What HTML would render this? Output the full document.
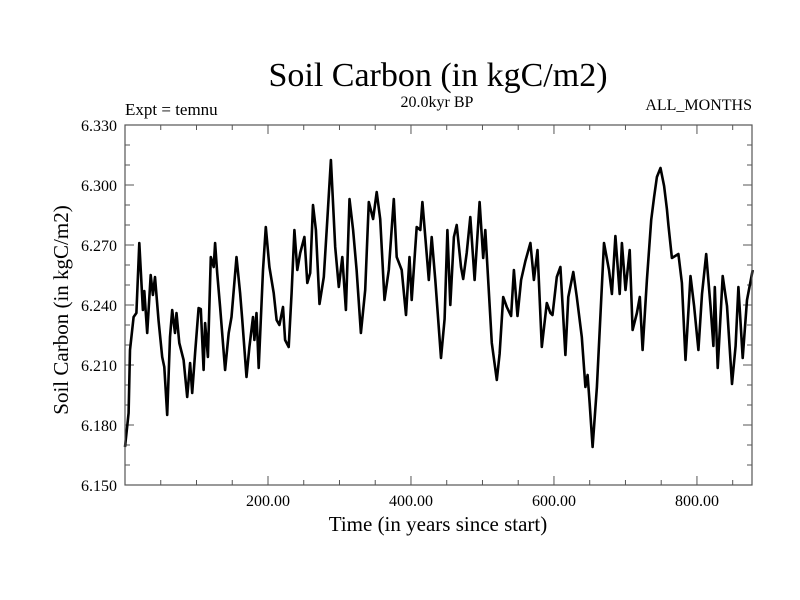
<!DOCTYPE html>
<html><head><meta charset="utf-8"><style>
body{margin:0;background:#fff;}
svg{display:block;font-family:"Liberation Serif",serif;}
</style></head><body>
<svg id="chart" width="800" height="600" viewBox="0 0 800 600" xmlns="http://www.w3.org/2000/svg">
<rect width="800" height="600" fill="#fff"/>
<text x="438" y="86" font-size="34" text-anchor="middle">Soil Carbon (in kgC/m2)</text>
<text x="437" y="107" font-size="16" text-anchor="middle">20.0kyr BP</text>
<text x="125" y="115" font-size="17">Expt = temnu</text>
<text x="752" y="110" font-size="16" text-anchor="end">ALL_MONTHS</text>
<text x="438" y="531" font-size="21" text-anchor="middle">Time (in years since start)</text>
<text transform="translate(68,310) rotate(-90)" font-size="21" text-anchor="middle">Soil Carbon (in kgC/m2)</text>
<g id="ticks"></g>
<g id="labels" font-size="16"></g>
<path id="series" fill="none" stroke="#000" stroke-width="2.6" stroke-linejoin="round"/>
<rect x="125" y="125" width="627" height="360" fill="none" stroke="#555" stroke-width="1.2"/>
</svg>
<script>
const years=[0,5,7,12,16,20,25,27,31,36,39,42,47,52,55,59,63,66,70,72,76,82,87,91,94,98,103,106,110,112,116,120,124,126,129,133,140,145,149,156,161,164,170,174,179,181,184,187,193,197,202,208,212,216,221,224,229,233,237,241,245,251,255,259,263,267,272,278,283,288,294,299,304,309,314,319,324,330,336,341,347,352,357,363,369,376,380,387,393,398,401,408,413,416,420,425,429,434,442,447,451,455,460,464,470,473,478,483,489,496,501,504,513,520,524,529,534,540,544,549,554,560,567,572,577,583,590,595,598,604,609,616,620,627,632,639,644,647,650,654,660,670,677,681,686,692,695,700,706,710,716,720,724,730,736,740,744,749,754,758,760,765,774,779,784,791,796,802,807,813,819,823,825,829,836,842,849,854,858,864,870,878];
const carbon=[6.169,6.186,6.2175,6.234,6.236,6.271,6.2375,6.247,6.226,6.255,6.245,6.254,6.232,6.214,6.209,6.185,6.224,6.2375,6.226,6.236,6.221,6.2125,6.194,6.211,6.196,6.216,6.2385,6.238,6.2075,6.231,6.214,6.264,6.259,6.271,6.256,6.239,6.2075,6.226,6.234,6.264,6.246,6.233,6.204,6.219,6.234,6.2225,6.236,6.2085,6.2575,6.279,6.259,6.246,6.2325,6.23,6.239,6.2225,6.219,6.246,6.2775,6.2575,6.266,6.274,6.251,6.256,6.29,6.2775,6.2405,6.254,6.2825,6.3125,6.269,6.249,6.264,6.2375,6.293,6.2775,6.2575,6.226,6.2475,6.2915,6.283,6.2965,6.283,6.2425,6.2575,6.293,6.264,6.2575,6.235,6.264,6.2425,6.279,6.2775,6.2915,6.274,6.2525,6.274,6.2525,6.2135,6.233,6.2775,6.24,6.274,6.28,6.259,6.253,6.266,6.284,6.2525,6.2915,6.2635,6.2775,6.221,6.2025,6.2155,6.244,6.239,6.2345,6.2575,6.2345,6.2525,6.262,6.271,6.2525,6.2675,6.219,6.241,6.236,6.235,6.254,6.259,6.215,6.244,6.2565,6.244,6.224,6.199,6.205,6.1905,6.169,6.199,6.271,6.2575,6.2455,6.2745,6.2455,6.271,6.2475,6.2675,6.2275,6.236,6.244,6.2175,6.2525,6.2825,6.294,6.304,6.3085,6.2995,6.288,6.28,6.2635,6.2655,6.251,6.2125,6.2545,6.2395,6.2175,6.2455,6.2655,6.2395,6.2195,6.249,6.2085,6.2545,6.2395,6.2005,6.2195,6.249,6.2135,6.2425,6.2575];
const xTickValues=[200,400,600,800];
const xTickLabels=["200.00","400.00","600.00","800.00"];
const yTickValues=[6.15,6.18,6.21,6.24,6.27,6.30,6.33];
const yTickLabels=["6.150","6.180","6.210","6.240","6.270","6.300","6.330"];
const X0=125,X1=752,Y0=485,Y1=125,XMIN=0,XMAX=877,YMIN=6.15,YMAX=6.33;
function xs(t){return X0+(t-XMIN)/(XMAX-XMIN)*(X1-X0);}
function ys(v){return Y0-(v-YMIN)/(YMAX-YMIN)*(Y0-Y1);}
const NS="http://www.w3.org/2000/svg";
const tg=document.getElementById('ticks'), lg=document.getElementById('labels');
function line(x1,y1,x2,y2){const l=document.createElementNS(NS,'line');l.setAttribute('x1',x1);l.setAttribute('y1',y1);l.setAttribute('x2',x2);l.setAttribute('y2',y2);l.setAttribute('stroke','#555');l.setAttribute('stroke-width','1');


tg.appendChild(l);}
for(let t=50;t<XMAX;t+=50){const x=xs(t);const len=(t%200===0)?9:5;line(x,Y0,x,Y0-len);line(x,Y1,x,Y1+len);}
for(let k=1;k<18;k++){const v=YMIN+k*0.01;const y=ys(v);const len=(k%3===0)?9:5;line(X0,y,X0+len,y);line(X1,y,X1-len,y);}
xTickValues.forEach((v,i)=>{const t=document.createElementNS(NS,'text');t.setAttribute('x',xs(v));t.setAttribute('y',506);t.setAttribute('text-anchor','middle');t.textContent=xTickLabels[i];


lg.appendChild(t);});
yTickValues.forEach((v,i)=>{const t=document.createElementNS(NS,'text');t.setAttribute('x',117);t.setAttribute('y',ys(v)+6);t.setAttribute('text-anchor','end');t.textContent=yTickLabels[i];


lg.appendChild(t);});
let d='';years.forEach((t,i)=>{d+=(i?'L':'M')+xs(t).toFixed(1)+','+ys(carbon[i]).toFixed(1);});
document.getElementById('series').setAttribute('d',d);
</script>
</body></html>
